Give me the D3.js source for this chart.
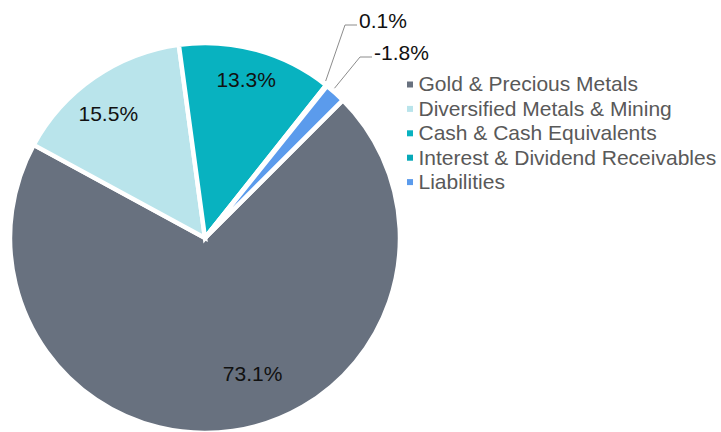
<!DOCTYPE html>
<html lang="en">
<head>
	<meta charset="UTF-8">
	<title>Portfolio Allocation</title>
	<style>
		body { margin: 0; background: #fff; }
		text { font-family: "Liberation Sans", Arial, sans-serif; }
	</style>
	<script src="https://d3js.org/d3.v7.min.js"></script>
</head>
<body>
	<script type="text/javascript">
		const categories = ["Gold & Precious Metals", "Diversified Metals & Mining", "Cash & Cash Equivalents", "Interest & Dividend Receivables", "Liabilities"];
		const values = [73.1, 15.5, 13.3, 0.1, -1.8];
		const colors = ["#68717f", "#b9e4eb", "#08b2c0", "#07a9b8", "#5b9bec"];

		const width = 721;
		const height = 432;
		const cx = 205, cy = 238, radius = 195;

		const svg = d3.select("body").append("svg")
			.attr("width", width)
			.attr("height", height);

		const data = categories.map((c, i) => ({ name: c, value: values[i], color: colors[i] }));

		// excel draws negative slices by absolute size
		const pie = d3.pie()
			.sort(null)
			.value(d => Math.abs(d.value))
			.startAngle(Math.PI / 4)
			.endAngle(Math.PI / 4 + 2 * Math.PI);

		const arc = d3.arc().innerRadius(0).outerRadius(radius);
		const arcs = pie(data);

		const g = svg.append("g").attr("transform", `translate(${cx},${cy})`);

		g.selectAll(".slice")
			.data(arcs)
			.join("path")
			.attr("class", "slice")
			.attr("d", arc)
			.style("fill", d => d.data.color)
			.style("stroke", "white")
			.style("stroke-width", 4.5)
			.style("stroke-linejoin", "miter");

		// labels inside the big slices (nudged like excel's best fit)
		const labelArc = d3.arc().innerRadius(radius * 0.72).outerRadius(radius * 0.72);
		const nudge = [[27.5, -3], [-17, -8.5], [4, -23]];
		const fmt = v => v.toFixed(1) + "%";

		g.selectAll(".inlabel")
			.data(arcs.filter(d => Math.abs(d.data.value) > 5))
			.join("text")
			.attr("class", "inlabel")
			.attr("x", (d, i) => labelArc.centroid(d)[0] + nudge[i][0])
			.attr("y", (d, i) => labelArc.centroid(d)[1] + nudge[i][1])
			.attr("text-anchor", "middle")
			.attr("dy", "0.35em")
			.style("font-size", "21px")
			.style("fill", "#111")
			.text(d => fmt(d.data.value));

		// callouts for the small slices
		const small = arcs.filter(d => Math.abs(d.data.value) <= 5);
		const calloutY = [25, 57];
		const calloutX = [345, 360];
		small.forEach((d, i) => {
			const a = (d.startAngle + d.endAngle) / 2 - 0.018;
			const r0 = radius + 3;
			const p0 = [Math.sin(a) * r0, -Math.cos(a) * r0];
			const p1 = [calloutX[i] - cx, calloutY[i] - cy];
			const p2 = [p1[0] + 12, p1[1]];
			g.append("polyline")
				.attr("points", [p0, p1, p2].map(p => p.join(",")).join(" "))
				.style("fill", "none")
				.style("stroke", "#8c8c8c")
				.style("stroke-width", 1);
			g.append("text")
				.attr("x", p2[0] + 2)
				.attr("y", p2[1] - 4.5)
				.attr("dy", "0.35em")
				.style("font-size", "21px")
				.style("fill", "#111")
				.text(fmt(d.data.value));
		});

		// legend
		const legend = svg.append("g").attr("transform", "translate(407,84)");
		const rows = legend.selectAll(".row")
			.data(data)
			.join("g")
			.attr("class", "row")
			.attr("transform", (d, i) => `translate(0,${i * 24.4})`);

		rows.append("rect")
			.attr("x", 0)
			.attr("y", -2.5)
			.attr("width", 6)
			.attr("height", 6)
			.style("fill", d => d.color);

		rows.append("text")
			.attr("x", 11.5)
			.attr("dy", "0.35em")
			.style("font-size", "21px")
			.style("fill", "#595959")
			.text(d => d.name);
	</script>
</body>
</html>
